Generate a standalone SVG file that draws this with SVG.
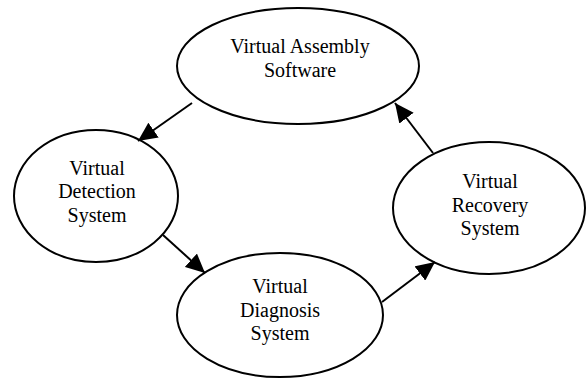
<svg xmlns="http://www.w3.org/2000/svg" width="586" height="385" viewBox="0 0 586 385">
<style>
.n ellipse{fill:#fff;stroke:#000;stroke-width:2}
.n text{font-family:"Liberation Serif","Times New Roman",serif;font-size:20px;fill:#000;text-anchor:middle}
#edges line{stroke:#000;stroke-width:2}
</style>
<defs>
<marker id="ah" viewBox="0 0 19 18" refX="19" refY="9" markerWidth="19" markerHeight="18" markerUnits="userSpaceOnUse" orient="auto">
<path d="M0,0 L19,9 L0,18 Z" fill="#000"/>
</marker>
</defs>
<rect width="586" height="385" fill="#fff"/>
<g id="top" class="n">
<ellipse cx="298" cy="66" rx="121" ry="58"/>
<text x="300" y="53">Virtual Assembly</text>
<text x="300" y="77">Software</text>
</g>
<g id="left" class="n">
<ellipse cx="96" cy="196" rx="82" ry="66"/>
<text x="97" y="175">Virtual</text>
<text x="97" y="198">Detection</text>
<text x="97" y="222">System</text>
</g>
<g id="bottom" class="n">
<ellipse cx="280" cy="315" rx="103" ry="62"/>
<text x="280" y="293">Virtual</text>
<text x="280" y="317">Diagnosis</text>
<text x="280" y="340">System</text>
</g>
<g id="right" class="n">
<ellipse cx="489" cy="208" rx="96" ry="66"/>
<text x="490" y="188">Virtual</text>
<text x="490" y="212">Recovery</text>
<text x="490" y="235">System</text>
</g>
<g id="edges">
<line x1="192" y1="103" x2="138" y2="141" marker-end="url(#ah)"/>
<line x1="163" y1="235" x2="205" y2="273" marker-end="url(#ah)"/>
<line x1="382" y1="302" x2="435" y2="262" marker-end="url(#ah)"/>
<line x1="433" y1="153" x2="395" y2="103" marker-end="url(#ah)"/>
</g>
</svg>
